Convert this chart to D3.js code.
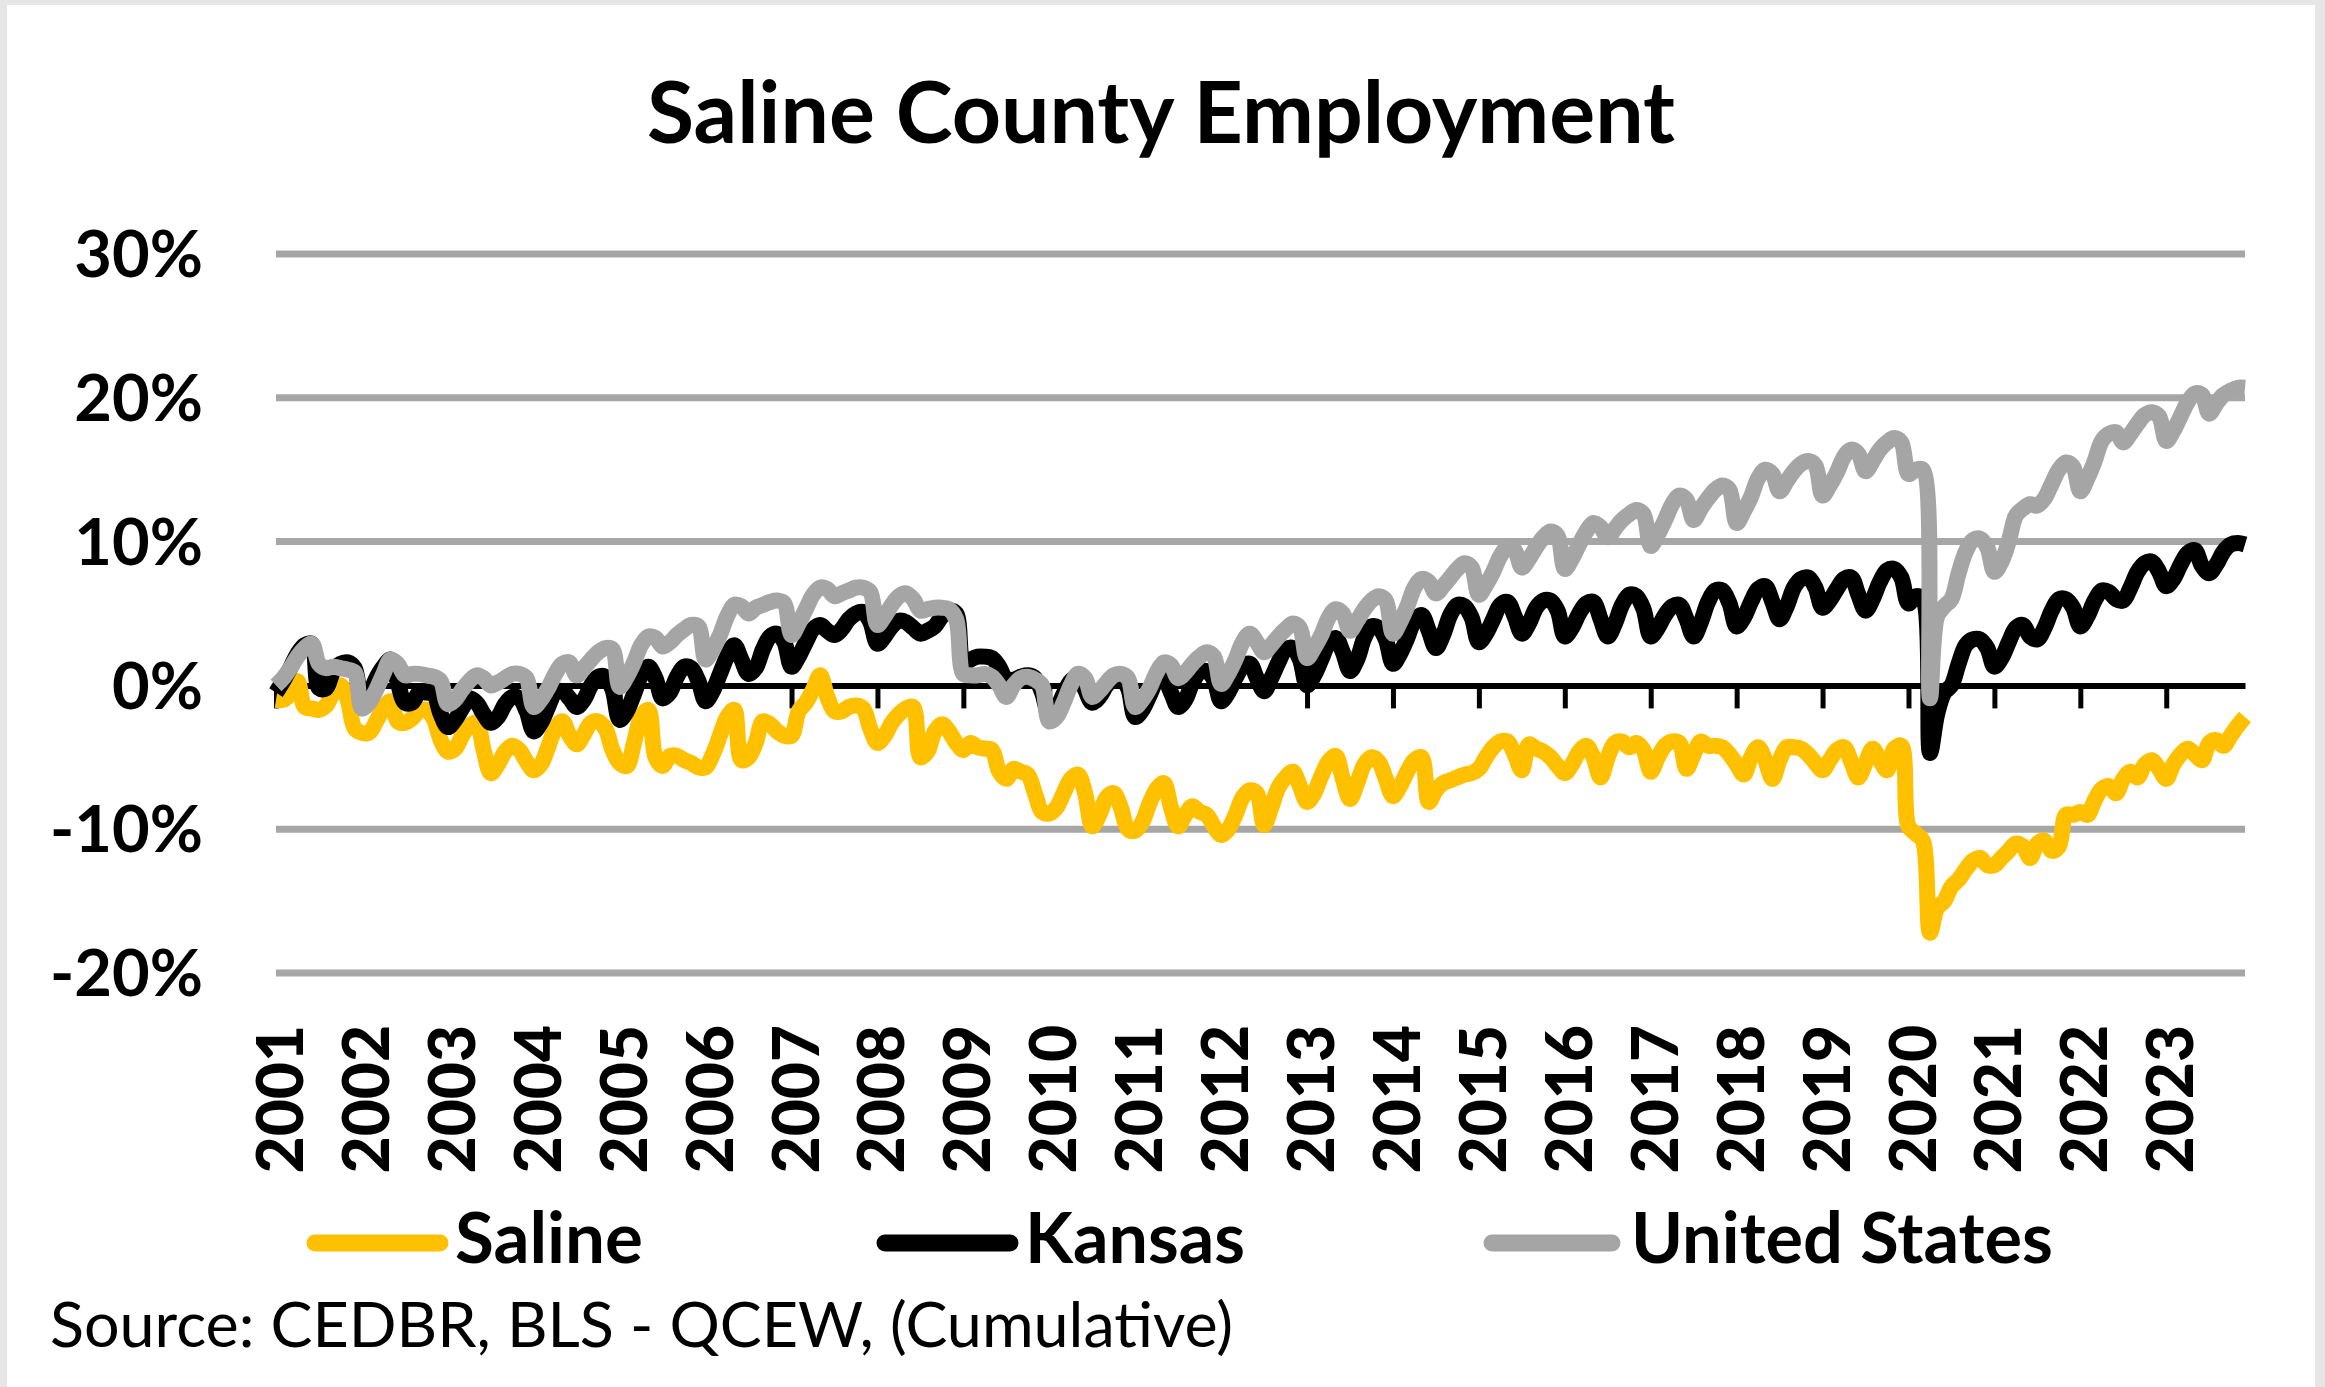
<!DOCTYPE html>
<html>
<head>
<meta charset="utf-8">
<script src="https://cdn.jsdelivr.net/npm/d3@7/dist/d3.min.js"></script>
<style>
  html, body { margin: 0; padding: 0; background: #e6e6e6; overflow: hidden; }
  svg { display: block; }
  text { font-family: Lato, "Open Sans", sans-serif; fill: #000; }
</style>
</head>
<body>
<div id="container"></div>
<script>
// category labels (one per January)
var years = ["2001","2002","2003","2004","2005","2006","2007","2008","2009","2010","2011","2012",
             "2013","2014","2015","2016","2017","2018","2019","2020","2021","2022","2023"];
var yTicks = [-20, -10, 0, 10, 20, 30];
var seriesNames = ["Saline", "Kansas", "United States"];
var seriesColors = ["#ffc000", "#000000", "#a5a5a5"];

// cumulative % change, monthly Jan 2001 .. Dec 2023
var saline = [
  -1.0,-1.0,-0.6,0.3,-1.5,-1.6,-1.7,-1.4,-0.5,0.0,-1.0,-3.0,
  -3.3,-3.3,-2.5,-1.6,-1.1,-2.5,-2.6,-2.3,-1.8,-1.7,-2.3,-3.8,
  -4.6,-4.4,-3.5,-2.8,-2.6,-4.5,-6.1,-5.5,-4.6,-4.2,-4.5,-5.3,
  -5.9,-5.5,-4.3,-3.0,-2.5,-3.5,-4.1,-3.4,-2.6,-2.5,-3.0,-4.5,
  -5.4,-5.6,-4.0,-2.2,-1.7,-5.0,-5.6,-4.9,-4.9,-5.2,-5.4,-5.7,
  -5.7,-4.8,-3.5,-2.2,-1.7,-5.2,-5.0,-4.0,-2.5,-2.7,-3.2,-3.5,
  -3.5,-1.8,-1.2,-0.3,0.7,-0.8,-1.8,-1.8,-1.5,-1.4,-1.6,-3.0,
  -4.0,-3.5,-2.6,-2.0,-1.6,-1.5,-5.0,-4.6,-3.2,-2.7,-3.2,-4.0,
  -4.5,-4.0,-4.3,-4.4,-4.5,-6.0,-6.5,-5.8,-6.0,-6.2,-7.5,-8.8,
  -8.9,-8.5,-7.5,-6.5,-6.2,-7.5,-9.8,-9.0,-7.8,-7.5,-8.5,-10.0,
  -10.1,-9.5,-8.2,-7.2,-6.8,-8.5,-9.8,-9.0,-8.4,-8.8,-9.0,-9.8,
  -10.4,-10.0,-9.0,-7.8,-7.3,-7.5,-9.7,-8.5,-7.1,-6.4,-6.0,-7.0,
  -8.1,-7.5,-6.3,-5.3,-4.9,-6.5,-7.9,-6.8,-5.5,-5.0,-5.3,-6.5,
  -7.7,-7.0,-6.0,-5.2,-5.0,-8.1,-7.3,-6.8,-6.6,-6.4,-6.2,-6.1,
  -5.8,-5.0,-4.3,-3.9,-3.9,-4.8,-5.9,-4.1,-4.4,-4.6,-5.0,-5.6,
  -6.1,-5.5,-4.6,-4.2,-5.0,-6.4,-5.0,-4.0,-3.9,-4.3,-4.0,-4.5,
  -6.0,-5.0,-4.2,-3.9,-4.0,-5.8,-4.8,-3.9,-4.2,-4.2,-4.3,-4.8,
  -5.5,-6.2,-5.0,-4.3,-5.2,-6.5,-5.2,-4.3,-4.3,-4.4,-4.8,-5.4,
  -5.9,-5.2,-4.5,-4.3,-5.3,-6.4,-5.4,-4.4,-5.2,-5.9,-4.4,-4.2,
  -9.8,-10.3,-10.8,-17.2,-15.5,-15.0,-14.0,-13.5,-12.8,-12.2,-12.0,-12.5,
  -12.5,-12.0,-11.5,-11.0,-11.2,-12.0,-11.0,-10.8,-11.5,-11.2,-9.0,-9.0,
  -8.8,-9.0,-8.0,-7.2,-7.0,-7.5,-6.5,-6.0,-6.4,-5.5,-5.2,-5.8,
  -6.5,-5.5,-4.8,-4.4,-4.8,-5.2,-4.0,-3.8,-4.2,-3.5,-2.8,-2.2
];

var kansas = [
  -0.5,0.3,1.2,2.2,2.8,2.9,-0.2,-0.2,1.0,1.5,1.6,1.2,
  -1.0,-0.6,0.5,1.3,1.8,0.2,-1.2,-1.2,-0.5,-0.5,-0.6,-2.0,
  -2.9,-2.4,-1.6,-0.9,-1.2,-2.0,-2.6,-2.2,-1.3,-0.8,-0.9,-1.8,
  -3.2,-2.6,-1.5,-0.5,-0.4,-0.9,-1.5,-1.0,0.0,0.6,0.6,-0.3,
  -2.4,-1.8,-0.6,0.7,1.3,0.5,-0.9,-0.5,0.6,1.3,1.2,0.3,
  -1.1,-0.4,0.8,2.0,2.8,1.8,0.8,1.2,2.5,3.4,3.6,3.0,
  1.3,2.0,3.0,3.9,4.2,3.8,3.5,3.9,4.6,5.0,5.1,4.4,
  2.9,3.4,4.1,4.5,4.4,4.0,3.6,3.8,4.1,4.8,5.2,5.0,
  1.5,1.8,2.0,2.0,1.9,1.3,0.4,0.4,0.6,0.7,0.5,-0.5,
  -2.0,-1.6,-0.6,0.3,0.6,-0.3,-1.2,-0.8,0.0,0.5,0.5,-0.2,
  -2.2,-1.7,-0.7,0.3,0.5,-0.5,-1.5,-1.0,0.2,0.9,1.0,0.4,
  -1.1,-0.5,0.5,1.3,1.5,0.5,-0.4,0.5,1.6,2.5,2.6,1.8,
  0.0,0.7,1.8,2.9,3.3,2.3,1.0,1.8,3.3,4.1,4.0,3.2,
  1.5,2.2,3.3,4.5,4.9,3.8,2.6,3.5,4.9,5.6,5.5,4.7,
  3.0,3.6,4.6,5.6,5.8,4.8,3.6,4.3,5.4,5.9,5.9,5.2,
  3.4,4.0,5.0,5.7,5.8,4.6,3.4,4.3,5.6,6.3,6.2,5.3,
  3.4,4.0,4.9,5.5,5.6,4.6,3.4,4.4,5.8,6.6,6.6,5.7,
  4.1,4.7,5.8,6.7,6.9,5.8,4.6,5.5,6.8,7.4,7.5,6.8,
  5.4,5.9,6.7,7.4,7.5,6.3,5.2,6.0,7.2,8.0,8.1,7.5,
  5.7,6.2,6.0,-4.7,-2.0,-0.5,0.0,1.5,2.8,3.2,3.2,2.6,
  1.3,1.9,3.0,4.0,4.2,3.4,3.2,4.0,5.2,6.0,6.0,5.4,
  4.1,4.8,5.9,6.6,6.5,6.0,5.9,6.8,7.9,8.5,8.6,7.9,
  6.9,7.4,8.4,9.2,9.4,8.3,7.8,8.4,9.3,9.8,9.9,9.8
];

var unitedStates = [
  0.0,0.5,1.2,2.0,2.6,2.9,1.5,1.2,1.3,1.2,1.1,0.9,
  -1.6,-1.2,-0.3,0.8,1.8,1.5,0.7,0.8,0.8,0.7,0.6,0.3,
  -1.3,-1.0,-0.3,0.3,0.7,0.5,0.0,0.2,0.5,0.8,0.8,0.5,
  -1.5,-1.0,-0.2,0.8,1.5,1.6,0.7,1.2,1.8,2.3,2.6,2.5,
  -0.1,0.6,1.6,2.8,3.4,3.3,2.7,3.0,3.5,3.9,4.2,4.1,
  1.8,2.5,3.5,4.8,5.6,5.5,5.0,5.4,5.6,5.8,5.9,5.7,
  3.5,4.3,5.3,6.3,6.8,6.7,6.2,6.4,6.6,6.8,6.8,6.5,
  4.2,4.8,5.6,6.2,6.4,6.0,5.2,5.3,5.4,5.4,5.3,4.6,
  0.8,0.7,0.7,0.8,0.6,0.0,-0.8,0.0,0.5,0.6,0.4,0.0,
  -2.5,-2.2,-1.2,0.0,0.8,0.5,-0.8,-0.4,0.2,0.7,0.8,0.5,
  -1.5,-1.0,-0.2,0.9,1.6,1.4,0.5,0.9,1.5,2.0,2.3,2.0,
  0.1,0.8,1.8,3.0,3.6,3.0,2.3,2.8,3.4,3.9,4.3,4.0,
  1.9,2.6,3.5,4.7,5.3,5.0,3.8,4.5,5.3,5.9,6.2,5.9,
  3.6,4.4,5.5,6.8,7.4,7.2,6.4,6.9,7.5,8.1,8.5,8.2,
  6.3,7.0,7.9,9.0,9.6,9.4,8.2,8.8,9.6,10.3,10.7,10.4,
  8.1,8.8,9.8,10.7,11.3,11.0,10.3,10.9,11.5,11.9,12.2,11.9,
  9.7,10.5,11.5,12.6,13.2,12.9,11.5,12.3,13.0,13.6,13.9,13.6,
  11.3,12.1,13.1,14.4,15.0,14.7,13.5,14.2,14.9,15.4,15.6,15.3,
  13.2,13.9,14.8,15.9,16.4,16.1,14.9,15.6,16.4,16.9,17.2,16.9,
  14.7,15.0,15.0,-0.9,4.8,5.5,6.0,7.8,9.3,10.1,10.2,9.6,
  7.9,8.6,10.0,11.8,12.3,12.6,12.5,13.0,14.0,15.0,15.5,15.2,
  13.5,14.4,15.6,17.0,17.5,17.6,16.9,17.5,18.2,18.8,19.0,18.7,
  17.0,17.7,18.7,19.7,20.3,20.2,18.9,19.6,20.2,20.5,20.7,20.7
];

var W = 2325, H = 1387;
var plot = { left: 276, right: 2245, top: 254, bottom: 973 };

var svg = d3.select("#container")
  .append("svg")
  .attr("width", W)
  .attr("height", H);

// white chart area inside the grey frame
svg.append("rect")
  .attr("x", 7).attr("y", 5)
  .attr("width", 2308).attr("height", H - 5)
  .attr("fill", "#fff");

var x = d3.scaleLinear().domain([0, saline.length - 1]).range([plot.left, plot.right]);
var y = d3.scaleLinear().domain([-20, 30]).range([plot.bottom, plot.top]);

// title
svg.append("text")
  .attr("x", 1161).attr("y", 143)
  .attr("text-anchor", "middle")
  .attr("font-size", 86).attr("font-weight", 700)
  .attr("textLength", 1028).attr("lengthAdjust", "spacingAndGlyphs")
  .text("Saline County Employment");

// horizontal gridlines (0 is drawn as the category axis)
svg.append("g")
  .selectAll("line")
  .data(yTicks.filter(function(d) { return d !== 0; }))
  .enter()
  .append("line")
  .attr("x1", plot.left).attr("x2", plot.right)
  .attr("y1", function(d) { return y(d); })
  .attr("y2", function(d) { return y(d); })
  .attr("stroke", "#a6a6a6")
  .attr("stroke-width", 7);

// value axis labels
var yAxis = svg.append("g")
  .attr("transform", "translate(203,0)")
  .call(d3.axisLeft(y).tickValues(yTicks).tickSize(0).tickPadding(0)
    .tickFormat(function(d) { return d + "%"; }));
yAxis.select(".domain").remove();
yAxis.selectAll("text")
  .attr("font-size", 65).attr("font-weight", 700)
  .attr("font-family", "Lato, sans-serif")
  .attr("fill", "#000")
  .attr("dy", "0.35em");

// category axis at 0 with yearly ticks
var yearIdx = years.map(function(d, i) { return i * 12; });
var xAxis = svg.append("g")
  .attr("transform", "translate(0," + y(0) + ")")
  .call(d3.axisBottom(x).tickValues(yearIdx).tickSize(23).tickSizeOuter(0).tickFormat(""));
xAxis.select(".domain").attr("stroke", "#000").attr("stroke-width", 6);
xAxis.selectAll(".tick line").attr("stroke", "#000").attr("stroke-width", 5);

// year labels, rotated, at the low position
svg.append("g")
  .selectAll("text")
  .data(years)
  .enter()
  .append("text")
  .attr("transform", function(d, i) {
    return "translate(" + (x(i * 12) + 4) + ",1025) rotate(-90)";
  })
  .attr("text-anchor", "end")
  .attr("dy", "0.36em")
  .attr("font-size", 64).attr("font-weight", 900)
  .text(function(d) { return d; });

// series lines
var line = d3.line()
  .x(function(d, i) { return x(i); })
  .y(function(d) { return y(d); })
  .curve(d3.curveCatmullRom.alpha(0.5));

var series = [saline, kansas, unitedStates];
svg.append("g")
  .selectAll("path")
  .data(series)
  .enter()
  .append("path")
  .attr("d", line)
  .attr("fill", "none")
  .attr("stroke", function(d, i) { return seriesColors[i]; })
  .attr("stroke-width", 16)
  .attr("stroke-linejoin", "round");

// legend
var legendPos = [
  { x1: 315, x2: 440, tx: 455, tw: 188 },
  { x1: 885, x2: 1010, tx: 1025, tw: 220 },
  { x1: 1492, x2: 1612, tx: 1631, tw: 422 }
];
var legend = svg.append("g")
  .selectAll("g")
  .data(seriesNames)
  .enter()
  .append("g");
legend.append("line")
  .attr("x1", function(d, i) { return legendPos[i].x1; })
  .attr("x2", function(d, i) { return legendPos[i].x2; })
  .attr("y1", 1243).attr("y2", 1243)
  .attr("stroke", function(d, i) { return seriesColors[i]; })
  .attr("stroke-width", 17)
  .attr("stroke-linecap", "round");
legend.append("text")
  .attr("x", function(d, i) { return legendPos[i].tx; })
  .attr("y", 1263)
  .attr("font-size", 70).attr("font-weight", 700)
  .attr("textLength", function(d, i) { return legendPos[i].tw; })
  .attr("lengthAdjust", "spacingAndGlyphs")
  .text(function(d) { return d; });

// source note
svg.append("text")
  .attr("x", 50).attr("y", 1347)
  .attr("font-size", 62)
  .attr("textLength", 1183).attr("lengthAdjust", "spacingAndGlyphs")
  .text("Source: CEDBR, BLS - QCEW, (Cumulative)");
</script>
</body>
</html>
